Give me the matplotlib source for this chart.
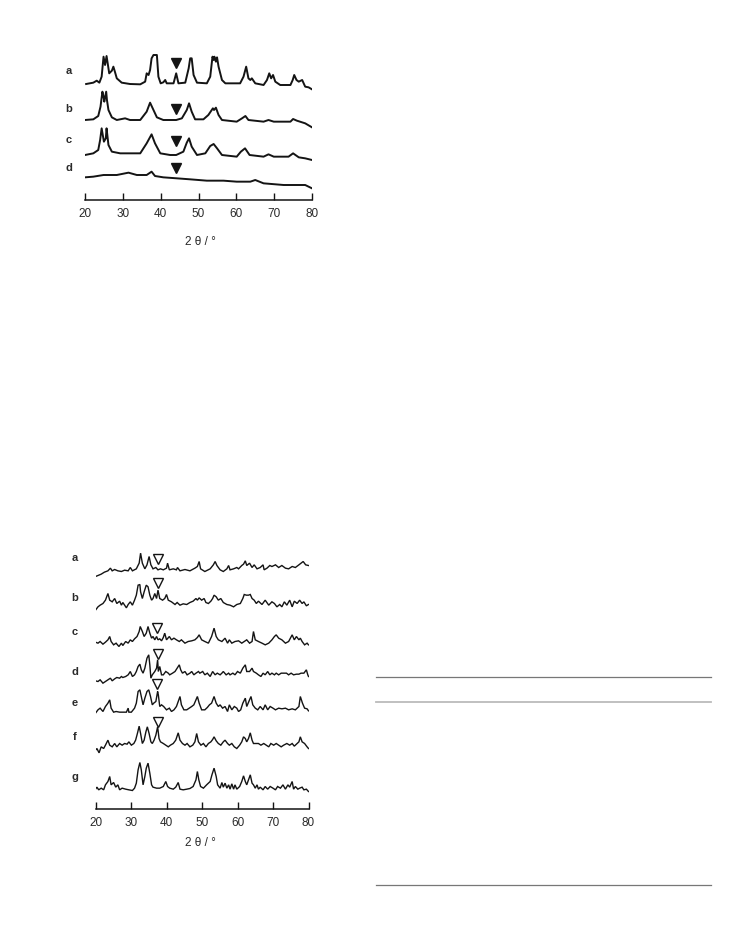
import matplotlib
matplotlib.use("Agg")
import matplotlib.pyplot as plt
from matplotlib.lines import Line2D

plt.rcParams['font.family'] = ['Liberation Sans', 'DejaVu Sans']

# ---- upper figure: four patterns a-d (2theta in degrees, intensity in a.u.) ----
top_a_tt = [20.3, 22.2, 23.1, 23.8, 24.4, 24.9, 25.3, 25.7, 26.4, 27.1, 27.5, 27.9, 28.4, 29.7,
            31.9, 34.6, 35.9, 36.3, 36.8, 37.2, 37.6, 38.1, 38.5, 39.0, 39.4, 40.0, 40.7, 41.2,
            41.6, 43.4, 44.1, 44.7, 46.5, 47.4, 47.8, 48.2, 48.7, 49.6, 52.2, 53.1, 53.7, 54.0,
            54.2, 54.6, 54.9, 55.3, 56.2, 57.1, 61.0, 61.9, 62.6, 63.2, 63.7, 64.1, 65.0, 67.2,
            68.1, 68.7, 69.2, 69.7, 70.3, 71.6, 74.3, 74.9, 75.3, 75.9, 76.5, 77.4, 78.2, 79.1, 80.0]
top_a_int = [3, 7, 13, 7, 25, 85, 60, 87, 35, 43, 55, 40, 20, 7,
             3, 2, 10, 35, 30, 45, 80, 90, 90, 90, 25, 5, 8, 15,
             5, 5, 35, 5, 7, 50, 80, 80, 30, 7, 5, 25, 85, 75,
             85, 70, 83, 55, 15, 5, 5, 25, 55, 20, 15, 20, 5, 0,
             15, 35, 20, 30, 10, 0, 0, 15, 30, 15, 10, 15, -5, -7, -13]

top_b_tt = [20.0, 22.2, 23.5, 24.1, 24.6, 24.9, 25.1, 25.6, 25.8, 26.2, 27.1, 28.4, 30.6, 31.9,
            34.6, 36.3, 37.2, 38.1, 39.0, 40.7, 44.1, 45.6, 46.9, 47.5, 48.2, 49.1, 51.3, 52.6,
            53.8, 54.1, 54.6, 55.3, 56.2, 60.1, 61.5, 62.4, 63.2, 67.2, 68.5, 69.9, 74.3, 75.0,
            76.0, 78.2, 80.0]
top_b_int = [0, 2, 12, 40, 85, 70, 55, 85, 60, 30, 8, 0, 5, 0,
             0, 25, 52, 30, 8, 0, 0, 5, 30, 50, 25, 2, 2, 15,
             35, 30, 37, 15, 0, -5, 5, 12, 0, -5, 0, -5, -5, 3,
             -2, -10, -22]

top_c_tt = [20.0, 22.2, 23.5, 24.0, 24.4, 24.7, 25.0, 25.5, 25.7, 26.2, 27.1, 29.3, 34.6, 36.3,
            37.6, 38.5, 39.9, 42.5, 44.1, 46.0, 46.9, 47.5, 48.2, 49.6, 51.8, 53.1, 54.0, 54.9,
            56.2, 60.1, 61.2, 62.3, 63.5, 67.2, 68.5, 69.9, 73.8, 75.0, 76.5, 78.2, 80.0]
top_c_int = [0, 5, 15, 45, 80, 60, 40, 50, 80, 30, 10, 5, 5, 35,
             62, 35, 5, 0, 0, 10, 37, 50, 25, 0, 5, 27, 33, 20,
             0, -5, 10, 20, 0, -5, 2, -5, -5, 5, -7, -10, -15]

top_d_tt = [20.0, 22.2, 24.9, 28.4, 31.5, 33.7, 36.3, 37.6, 38.5, 40.7, 44.3, 47.8, 52.2, 56.6,
            60.1, 63.7, 65.0, 67.2, 72.5, 76.0, 78.2, 80.0]
top_d_int = [-2, 0, 5, 5, 12, 5, 5, 15, 2, -2, -5, -8, -12, -12,
             -15, -15, -10, -20, -25, -25, -25, -35]

top_labels = ['a', 'b', 'c', 'd']
top_offsets = [345, 240, 135, 70]
top_marker_tt = 44.1
top_marker_y = [412, 274, 177, 96]

# ---- lower figure: seven patterns a-g ----
bot_a_tt = [20.0, 20.7, 21.6, 22.5, 23.5, 24.2, 24.7, 25.4, 26.3, 27.3, 28.2, 29.2, 29.8, 30.4,
            31.5, 32.3, 32.7, 33.2, 33.9, 34.5, 35.1, 35.6, 36.2, 37.0, 37.6, 38.3, 39.1, 40.0,
            40.3, 40.8, 41.9, 42.8, 43.1, 43.8, 45.2, 46.6, 48.0, 48.7, 49.2, 49.6, 50.8, 52.3,
            53.2, 53.7, 54.2, 55.1, 56.0, 57.0, 57.5, 57.9, 58.9, 59.8, 60.3, 61.2, 61.7, 62.2,
            62.6, 63.4, 64.1, 64.7, 65.5, 66.4, 67.2, 67.5, 68.3, 69.1, 69.7, 70.7, 71.6, 72.5,
            73.5, 74.4, 75.4, 76.3, 77.3, 77.9, 78.5, 79.2, 80.0]
bot_a_int = [-10, -7, -3, 3, 7, 15, 7, 11, 7, 5, 9, 7, 17, 7,
             13, 30, 60, 30, 13, 25, 50, 25, 13, 17, 10, 13, 10, 15,
             30, 10, 13, 10, 17, 7, 11, 7, 15, 20, 35, 13, 5, 13,
             25, 35, 23, 10, 5, 13, 23, 10, 13, 17, 13, 23, 27, 37,
             23, 30, 17, 25, 13, 17, 25, 10, 15, 23, 20, 25, 17, 23,
             15, 13, 20, 17, 25, 30, 35, 25, 23]

bot_b_tt = [20.0, 20.7, 21.3, 22.1, 22.8, 23.5, 24.0, 24.7, 25.4, 26.0, 26.8, 27.3, 27.7, 28.7,
            29.2, 29.8, 30.4, 31.0, 31.5, 32.0, 32.5, 32.7, 33.2, 33.7, 34.3, 34.8, 35.3, 35.8,
            36.2, 36.7, 37.2, 37.6, 38.1, 38.9, 39.5, 40.0, 40.5, 41.4, 42.4, 43.0, 43.8, 44.7,
            45.7, 46.6, 47.5, 48.3, 48.7, 49.2, 49.9, 50.6, 51.1, 51.8, 52.5, 53.0, 53.4, 54.0,
            54.6, 55.3, 56.0, 57.0, 57.9, 58.9, 59.8, 60.8, 61.5, 61.9, 62.5, 63.1, 63.6, 64.1,
            64.7, 65.3, 65.9, 66.9, 67.8, 68.8, 69.7, 70.4, 71.1, 71.9, 72.5, 73.2, 73.9, 74.7,
            75.4, 76.0, 76.8, 77.5, 78.2, 78.7, 79.4, 80.0]
bot_b_int = [-15, -5, 0, 5, 15, 35, 15, 10, 20, 5, 12, 0, 8, -8,
             2, 10, 0, 15, 30, 60, 62, 40, 20, 40, 60, 55, 30, 15,
             20, 35, 20, 45, 20, 15, 20, 32, 15, 10, 2, 8, 0, 4,
             2, 8, 12, 20, 15, 22, 15, 20, 8, 5, 12, 20, 30, 25,
             15, 20, 8, 2, 0, -5, 2, 5, 20, 32, 30, 30, 32, 20,
             15, 5, 12, 2, 15, 0, 10, 5, -5, 2, -5, 10, 0, 15,
             -5, 12, 5, 15, 5, 10, -2, 2]

bot_c_tt = [20.0, 20.7, 21.3, 22.1, 22.8, 23.5, 24.0, 24.4, 25.1, 25.8, 26.6, 27.3, 27.7, 28.5,
            29.2, 29.8, 30.4, 31.0, 31.7, 32.3, 32.6, 33.2, 33.7, 34.3, 34.8, 35.3, 35.8, 36.2,
            36.7, 37.2, 37.6, 38.1, 38.6, 39.1, 39.5, 40.0, 40.8, 41.4, 42.1, 42.8, 43.6, 44.2,
            45.2, 46.1, 47.1, 48.0, 48.7, 49.2, 49.9, 50.8, 51.8, 52.7, 53.4, 54.0, 54.6, 55.6,
            56.5, 57.2, 57.7, 58.4, 59.3, 60.3, 61.2, 61.9, 62.6, 63.4, 64.1, 64.5, 65.0, 65.9,
            66.9, 67.8, 68.8, 69.7, 70.4, 70.9, 71.6, 72.5, 73.5, 74.4, 74.9, 75.4, 76.0, 76.6,
            77.3, 77.7, 78.2, 78.9, 79.6, 80.0]
bot_c_int = [3, 0, 5, -3, 3, 10, 20, 5, -5, 0, -10, 0, -7, 5,
             0, 10, 5, 13, 20, 35, 50, 35, 20, 30, 50, 30, 15, 20,
             10, 20, 10, 13, 7, 17, 30, 10, 20, 10, 15, 10, 5, 10,
             0, 5, 7, 10, 17, 25, 10, 5, 0, 20, 45, 20, 10, 5,
             15, 0, 10, 0, 5, 7, 0, 5, 10, 0, 5, 35, 10, 5,
             0, -5, 0, 10, 20, 25, 15, 10, 0, 5, 15, 25, 10, 20,
             10, 15, 5, -5, 0, -5]

bot_d_tt = [20.0, 20.7, 21.3, 22.1, 22.8, 23.5, 24.2, 24.7, 25.4, 26.0, 26.8, 27.3, 27.7, 28.5,
            29.2, 29.8, 30.4, 31.0, 31.5, 32.0, 32.5, 32.9, 33.4, 33.9, 34.5, 35.0, 35.3, 35.6,
            36.0, 36.7, 37.2, 37.5, 37.7, 38.1, 38.6, 39.1, 39.8, 40.5, 40.9, 41.7, 42.4, 43.0,
            43.6, 44.0, 44.5, 45.2, 45.8, 46.6, 47.1, 47.7, 48.3, 49.0, 49.4, 50.2, 50.8, 51.5,
            52.3, 53.0, 53.7, 54.3, 55.1, 55.6, 56.0, 56.8, 57.5, 57.9, 58.7, 59.3, 60.0, 60.8,
            61.5, 62.2, 62.6, 63.4, 64.1, 64.5, 65.3, 65.9, 66.6, 67.2, 67.8, 68.5, 69.1, 69.7,
            70.4, 70.9, 71.6, 72.3, 73.0, 73.8, 74.4, 75.1, 75.8, 76.6, 77.3, 77.9, 78.7, 79.4,
            79.8, 80.0]
bot_d_int = [-8, -10, -5, -15, -10, -5, 0, -8, -2, 2, 0, 5, 2, 5,
             10, 20, 5, 10, 20, 35, 42, 25, 15, 30, 60, 70, 40, 0,
             10, 20, 30, 55, 20, 35, 10, 10, 20, 15, 10, 15, 20, 30,
             40, 25, 15, 20, 10, 15, 20, 10, 15, 20, 15, 20, 10, 15,
             5, 20, 10, 15, 10, 15, 20, 10, 15, 10, 15, 10, 20, 15,
             30, 40, 20, 20, 30, 20, 15, 10, 5, 15, 10, 20, 10, 15,
             10, 15, 10, 15, 15, 15, 10, 15, 10, 12, 12, 15, 15, 25,
             10, 5]

bot_e_tt = [20.0, 20.7, 21.3, 22.1, 22.8, 23.5, 24.0, 24.4, 25.1, 25.8, 26.8, 27.7, 28.7, 29.2,
            29.4, 30.1, 31.0, 31.5, 32.0, 32.5, 33.0, 33.4, 33.9, 34.5, 35.0, 35.5, 36.0, 36.4,
            37.0, 37.5, 37.7, 38.1, 38.6, 39.2, 40.0, 40.8, 41.4, 42.1, 42.8, 43.3, 43.8, 44.2,
            44.9, 45.7, 46.4, 47.1, 47.7, 48.3, 48.7, 49.2, 49.9, 50.8, 51.5, 52.1, 52.7, 53.4,
            54.0, 54.6, 55.1, 55.8, 56.5, 57.2, 57.7, 58.4, 59.1, 59.8, 60.3, 60.9, 61.5, 62.2,
            62.6, 63.2, 63.8, 64.3, 65.0, 65.7, 66.4, 67.2, 67.8, 68.5, 69.2, 70.0, 70.7, 71.6,
            72.5, 73.5, 74.4, 75.4, 76.3, 77.3, 77.7, 78.3, 78.9, 79.6, 80.0]
bot_e_int = [-3, 7, 12, 2, 17, 27, 37, 12, 0, 2, 0, 0, 0, 12,
             0, 0, 12, 27, 62, 67, 42, 22, 42, 62, 67, 47, 22, 27,
             32, 62, 52, 17, 22, 17, 7, 12, 2, 7, 17, 32, 47, 22,
             7, 7, 12, 17, 22, 37, 47, 27, 7, 7, 14, 22, 27, 47,
             27, 17, 22, 12, 17, 2, 22, 7, 17, 12, 2, 7, 27, 42,
             17, 32, 47, 22, 12, 7, 17, 7, 22, 7, 17, 12, 7, 12,
             10, 12, 7, 10, 7, 17, 47, 27, 12, 10, 4]

bot_f_tt = [20.0, 20.4, 21.0, 21.6, 22.3, 22.8, 23.5, 24.0, 24.7, 25.4, 26.0, 26.8, 27.5, 28.2,
            28.9, 29.4, 30.1, 30.8, 31.3, 31.8, 32.3, 32.7, 33.2, 33.7, 34.2, 34.6, 35.1, 35.6,
            36.0, 36.5, 37.0, 37.5, 37.9, 38.3, 39.1, 39.8, 40.5, 41.1, 41.9, 42.6, 43.3, 43.8,
            44.5, 45.2, 45.8, 46.6, 47.4, 48.0, 48.5, 49.0, 49.7, 50.4, 51.1, 51.8, 52.5, 53.0,
            53.4, 54.0, 54.6, 55.3, 56.0, 56.5, 57.2, 57.7, 58.4, 59.1, 59.8, 60.6, 61.2, 61.7,
            62.2, 62.6, 63.1, 63.6, 64.1, 64.5, 65.3, 65.9, 66.6, 67.4, 68.1, 68.8, 69.4, 70.2,
            70.9, 71.6, 72.3, 73.0, 73.9, 74.7, 75.4, 76.0, 76.8, 77.3, 77.7, 78.2, 78.9, 79.6,
            80.0]
bot_f_int = [-10, -5, -18, 0, -5, 5, 20, 5, 0, 10, 0, 10, 5, 10,
             8, 15, 5, 10, 20, 40, 62, 40, 10, 20, 45, 60, 40, 15,
             10, 20, 35, 60, 25, 15, 10, 5, 0, 5, 10, 20, 42, 20,
             10, 5, 10, 0, 5, 15, 40, 15, 5, 10, 0, 10, 15, 22,
             30, 18, 10, 5, 15, 20, 10, 5, 10, 0, -5, 5, 15, 30,
             25, 15, 25, 42, 20, 10, 10, 10, 5, 10, 5, 0, 10, 5,
             10, 5, 0, 5, 10, 5, 10, 2, 10, 15, 30, 15, 10, 0,
             -5]

bot_g_tt = [20.0, 20.4, 20.9, 21.6, 22.3, 22.8, 23.5, 24.0, 24.4, 25.1, 25.7, 26.3, 26.8, 27.5,
            28.5, 29.4, 30.4, 31.0, 31.5, 32.0, 32.5, 32.9, 33.4, 33.9, 34.3, 34.8, 35.3, 35.8,
            36.2, 37.2, 38.1, 39.1, 39.8, 40.3, 40.9, 41.9, 42.6, 43.3, 43.8, 44.7, 45.7, 46.6,
            47.5, 48.3, 48.7, 49.1, 49.6, 50.4, 51.3, 52.3, 52.8, 53.4, 54.0, 54.4, 55.1, 55.6,
            56.0, 56.5, 57.0, 57.5, 57.9, 58.4, 58.9, 59.3, 59.8, 60.6, 61.2, 61.7, 62.2, 62.6,
            63.1, 63.6, 64.1, 64.5, 65.0, 65.5, 65.9, 66.4, 67.2, 67.8, 68.5, 69.2, 70.0, 70.7,
            71.3, 72.1, 72.8, 73.5, 74.2, 74.7, 75.4, 75.8, 76.3, 77.0, 77.5, 78.2, 78.7, 79.4,
            80.0]
bot_g_int = [0, 6, -2, 3, -2, 13, 23, 38, 13, 20, 6, 13, -2, 3,
             0, -2, -4, 3, 18, 58, 80, 58, 13, 38, 63, 78, 48, 13,
             6, 3, 3, 8, 23, 8, 3, 0, 6, 20, 0, -2, 0, 2,
             8, 28, 53, 28, 8, 3, 13, 23, 43, 63, 38, 13, 3, 20,
             6, 18, 3, 13, 0, 16, 0, 13, 0, 8, 23, 40, 23, 13,
             28, 43, 18, 13, 3, 13, 0, 6, -2, 8, 0, 8, 3, -2,
             8, 3, 13, 0, 13, 6, 23, 0, 8, 0, 3, 6, -2, 0,
             -7]

bot_labels = ['a', 'b', 'c', 'd', 'e', 'f', 'g']
bot_offsets = [706, 610, 496, 391, 289, 185, 58]
bot_marker_tt = [37.6, 37.5, 37.4, 37.5, 37.4, 37.5]
bot_marker_y = [748, 676, 542, 463, 373, 260]

ticks = [20, 30, 40, 50, 60, 70, 80]

W, H = 735, 936
INK = '#141414'
TXT = '#2a2a2a'


def setup_axis(ax, ymax):
    ax.set_xlim(20, 80)
    ax.set_ylim(0, ymax)
    for side in ['top', 'right', 'left']:
        ax.spines[side].set_visible(False)
    ax.spines['bottom'].set_color(INK)
    ax.spines['bottom'].set_linewidth(1.1)
    ax.set_yticks([])
    ax.set_xticks(ticks)
    ax.tick_params(axis='x', direction='in', length=5, width=1.0, color=INK,
                   pad=6, labelsize=8.5, labelcolor=TXT)
    ax.patch.set_visible(False)


fig = plt.figure(figsize=(W / 100, H / 100), dpi=100)

# upper panel: x 20..80 -> px 85..312, axis line at y=200 px, top at 40 px
ax1 = fig.add_axes([85 / W, 1 - 200 / H, 227 / W, 160 / H])
setup_axis(ax1, 480)
top_series = [(top_a_tt, top_a_int), (top_b_tt, top_b_int),
              (top_c_tt, top_c_int), (top_d_tt, top_d_int)]
for (tt, inten), off, lab, my in zip(top_series, top_offsets, top_labels, top_marker_y):
    ax1.plot(tt, [v + off for v in inten], color=INK, lw=1.4, solid_joinstyle='round')
    ax1.plot([top_marker_tt], [my], marker='v', ms=6.5, color=INK, ls='none')
ax1_lab_y = [387, 273, 180, 96]
for lab, y in zip(top_labels, ax1_lab_y):
    ax1.text(15.8, y, lab, ha='center', va='center', fontsize=8, fontweight='bold',
             color=TXT, clip_on=False)
fig.text(200 / W, 1 - 242 / H, '2 θ / °', ha='center', va='center', fontsize=8.5, color=TXT)

# lower panel: x 20..80 -> px 95.5..308.5, axis line at y=808.5 px
ax2 = fig.add_axes([95.5 / W, 1 - 808.5 / H, 213 / W, 278.5 / H])
setup_axis(ax2, 835.5)
bot_series = [(bot_a_tt, bot_a_int), (bot_b_tt, bot_b_int), (bot_c_tt, bot_c_int),
              (bot_d_tt, bot_d_int), (bot_e_tt, bot_e_int), (bot_f_tt, bot_f_int),
              (bot_g_tt, bot_g_int)]
for (tt, inten), off in zip(bot_series, bot_offsets):
    ax2.plot(tt, [v + off for v in inten], color=INK, lw=1.0, solid_joinstyle='miter')
for t, y in zip(bot_marker_tt, bot_marker_y):
    ax2.plot([t], [y], marker='v', ms=6.5, mfc='white', mec=INK, mew=1.0, ls='none')
ax2_lab_y = [751, 631, 529, 409, 316, 214, 94]
for lab, y in zip(bot_labels, ax2_lab_y):
    ax2.text(14.2, y, lab, ha='center', va='center', fontsize=8, fontweight='bold',
             color=TXT, clip_on=False)
fig.text(200 / W, 1 - 843 / H, '2 θ / °', ha='center', va='center', fontsize=8.5, color=TXT)

# table rules on the right of the page
fig.add_artist(Line2D([376 / W, 711 / W], [1 - 677.3 / H] * 2, color='#777777', lw=0.9))
fig.add_artist(Line2D([376 / W, 711 / W], [1 - 702 / H] * 2, color='#bbbbbb', lw=1.3))
fig.add_artist(Line2D([376 / W, 711 / W], [1 - 885.3 / H] * 2, color='#777777', lw=0.9))

fig.savefig('out.png', dpi=100, facecolor='white')
